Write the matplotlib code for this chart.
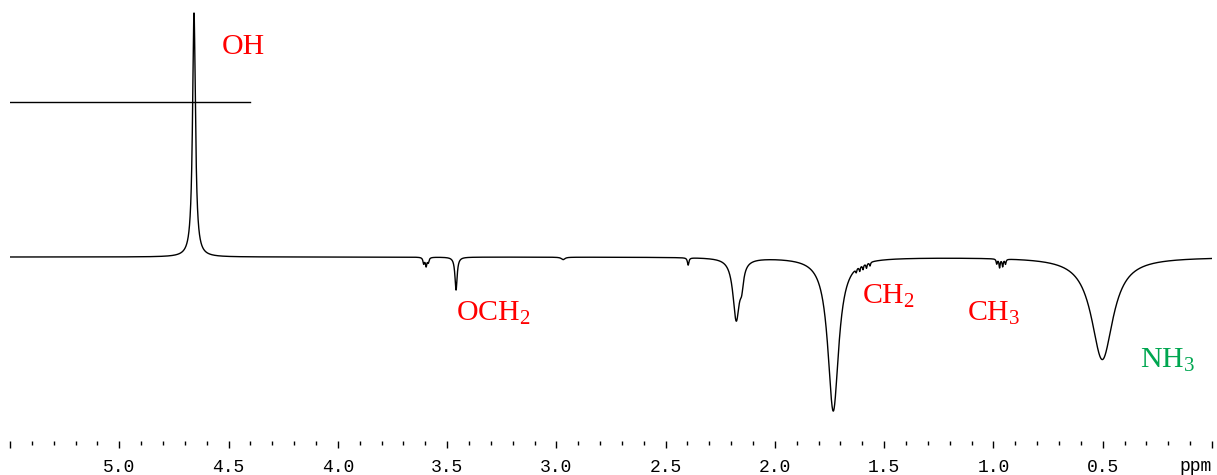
import numpy as np
import matplotlib.pyplot as plt

# peak list: position (ppm), intensity, width (FWHM, ppm)
pos = [4.658, 3.607, 3.596, 3.586, 3.459, 2.969, 2.397, 2.177, 2.152,
       1.733, 1.628, 1.612, 1.597, 1.581, 1.565, 0.985, 0.972, 0.958, 0.945, 0.502]
amp = [1.0, -0.025, -0.035, -0.02, -0.135, -0.01, -0.03, -0.25, -0.07,
       -0.63, -0.015, -0.02, -0.02, -0.02, -0.015, -0.02, -0.035, -0.03, -0.02, -0.42]
fwhm = [0.016, 0.008, 0.008, 0.008, 0.012, 0.02, 0.008, 0.036, 0.02,
        0.06, 0.006, 0.006, 0.006, 0.006, 0.006, 0.006, 0.006, 0.006, 0.006, 0.12]

labels = ["OH", r"OCH$\mathregular{_2}$", r"CH$\mathregular{_2}$", r"CH$\mathregular{_3}$", r"NH$\mathregular{_3}$"]
label_x = [4.53, 3.46, 1.60, 1.12, 0.33]
label_y = [0.83, -0.26, -0.19, -0.26, -0.455]
label_col = ["red", "red", "red", "red", "#00a650"]

ppm = np.linspace(5.5, 0.0, 12001)
spec = np.zeros_like(ppm)
for p, a, w in zip(pos, amp, fwhm):
    hw = w / 2
    spec += a * hw**2 / ((ppm - p)**2 + hw**2)

fig = plt.figure(figsize=(12.17, 4.75), dpi=100)
ax = fig.add_axes([10/1217, 34/475, 1202/1217, 441/475])
ax.plot(ppm, spec, color="black", lw=1.0)
ax.plot([5.5, 4.402], [0.635, 0.635], color="black", lw=1.0)

for t, x, y, c in zip(labels, label_x, label_y, label_col):
    ax.text(x, y, t, color=c, fontsize=21.5, family="Liberation Serif",
            ha="left", va="baseline")

ax.set_xlim(5.5, 0.0)
ax.set_ylim(-0.754, 1.053)
for s in ax.spines.values():
    s.set_visible(False)
ax.set_yticks([])
ax.set_xticks(np.arange(0.0, 5.51, 0.5))
ax.set_xticks(np.arange(0.0, 5.51, 0.1), minor=True)
ax.set_xticklabels(["", "0.5", "1.0", "1.5", "2.0", "2.5", "3.0", "3.5", "4.0", "4.5", "5.0", ""])
ax.tick_params(axis="x", which="major", length=5, width=1, direction="out", pad=8,
               labelsize=13, labelfontfamily="Liberation Mono")
ax.tick_params(axis="x", which="minor", length=3, width=1, direction="out")
ax.text(0.0, -0.825, "ppm", fontsize=13, family="Liberation Mono",
        ha="right", va="top", transform=ax.transData)

fig.savefig("out.png", dpi=100)
